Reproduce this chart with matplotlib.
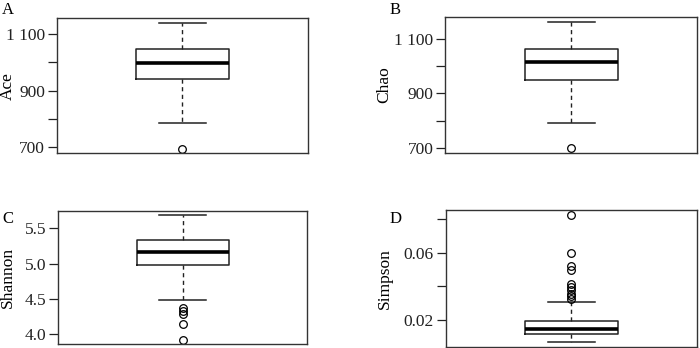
import matplotlib
matplotlib.use("Agg")
import matplotlib.pyplot as plt

plt.rcParams['font.family'] = ['Liberation Serif', 'DejaVu Serif']

# summary statistics (whisker low, Q1, median, Q3, whisker high)
ace_stats = [787, 942, 998, 1047, 1140]
ace_out = [695]
chao_stats = [792, 951, 1016, 1063, 1164]
chao_out = [699]
shannon_stats = [4.49, 4.98, 5.17, 5.33, 5.69]
shannon_out = [4.37, 4.33, 4.29, 4.14, 3.92]
simpson_stats = [0.0067, 0.0117, 0.0148, 0.0192, 0.0309]
simpson_out = [0.0827, 0.0598, 0.0518, 0.0499, 0.0415, 0.0395, 0.0375, 0.0355, 0.0339, 0.0324]

names = ['Ace', 'Chao', 'Shannon', 'Simpson']
letters = ['A', 'B', 'C', 'D']
yticks = [[700, 800, 900, 1000, 1100],
          [700, 800, 900, 1000, 1100],
          [4.0, 4.5, 5.0, 5.5],
          [0.02, 0.04, 0.06, 0.08]]
yticklabels = [['700', '', '900', '', '1 100'],
               ['700', '', '900', '', '1 100'],
               ['4.0', '4.5', '5.0', '5.5'],
               ['0.02', '', '0.06', '']]
ylims = [(679, 1157), (680, 1182), (3.86, 5.75), (0.004, 0.0856)]

all_stats = [ace_stats, chao_stats, shannon_stats, simpson_stats]
all_out = [ace_out, chao_out, shannon_out, simpson_out]

fig = plt.figure(figsize=(7, 3.48), dpi=100)
rects = [[0.0814, 0.560, 0.3586, 0.388],
         [0.636, 0.560, 0.360, 0.391],
         [0.083, 0.0115, 0.3556, 0.383],
         [0.6367, 0.004, 0.3593, 0.393]]
# right edge of the rotated y label, in axes fraction
label_x = [-0.165, -0.21, -0.17, -0.21]
letter_pos = [(0.002, 0.995), (0.557, 0.995), (0.003, 0.393), (0.556, 0.393)]

for i in range(4):
    ax = fig.add_axes(rects[i])
    s = all_stats[i]
    bx = [{'whislo': s[0], 'q1': s[1], 'med': s[2], 'q3': s[3], 'whishi': s[4],
           'fliers': all_out[i]}]
    ax.bxp(bx, positions=[1], widths=0.37, capwidths=0.187,
           boxprops=dict(color='#222222', linewidth=1.1),
           medianprops=dict(color='black', linewidth=2.6),
           whiskerprops=dict(color='#222222', linewidth=1.0, linestyle=(0, (3, 2.5))),
           capprops=dict(color='#222222', linewidth=1.1),
           flierprops=dict(marker='o', markersize=5.5, markerfacecolor='none',
                           markeredgecolor='black', markeredgewidth=0.9))
    ax.set_xlim(0.5, 1.5)
    ax.set_ylim(ylims[i])
    ax.set_xticks([])
    ax.set_yticks(yticks[i])
    ax.set_yticklabels(yticklabels[i])
    ax.tick_params(axis='y', length=6.5, width=0.9, pad=2, labelsize=12.5, colors='#222222')
    for sp in ax.spines.values():
        sp.set_color('#333333')
        sp.set_linewidth(1.0)
    ax.set_ylabel(names[i], fontsize=12.5)
    ax.yaxis.set_label_coords(label_x[i], 0.5)
    fig.text(letter_pos[i][0], letter_pos[i][1], letters[i], fontsize=12, va='top', ha='left')

fig.savefig('out.png', dpi=100)
